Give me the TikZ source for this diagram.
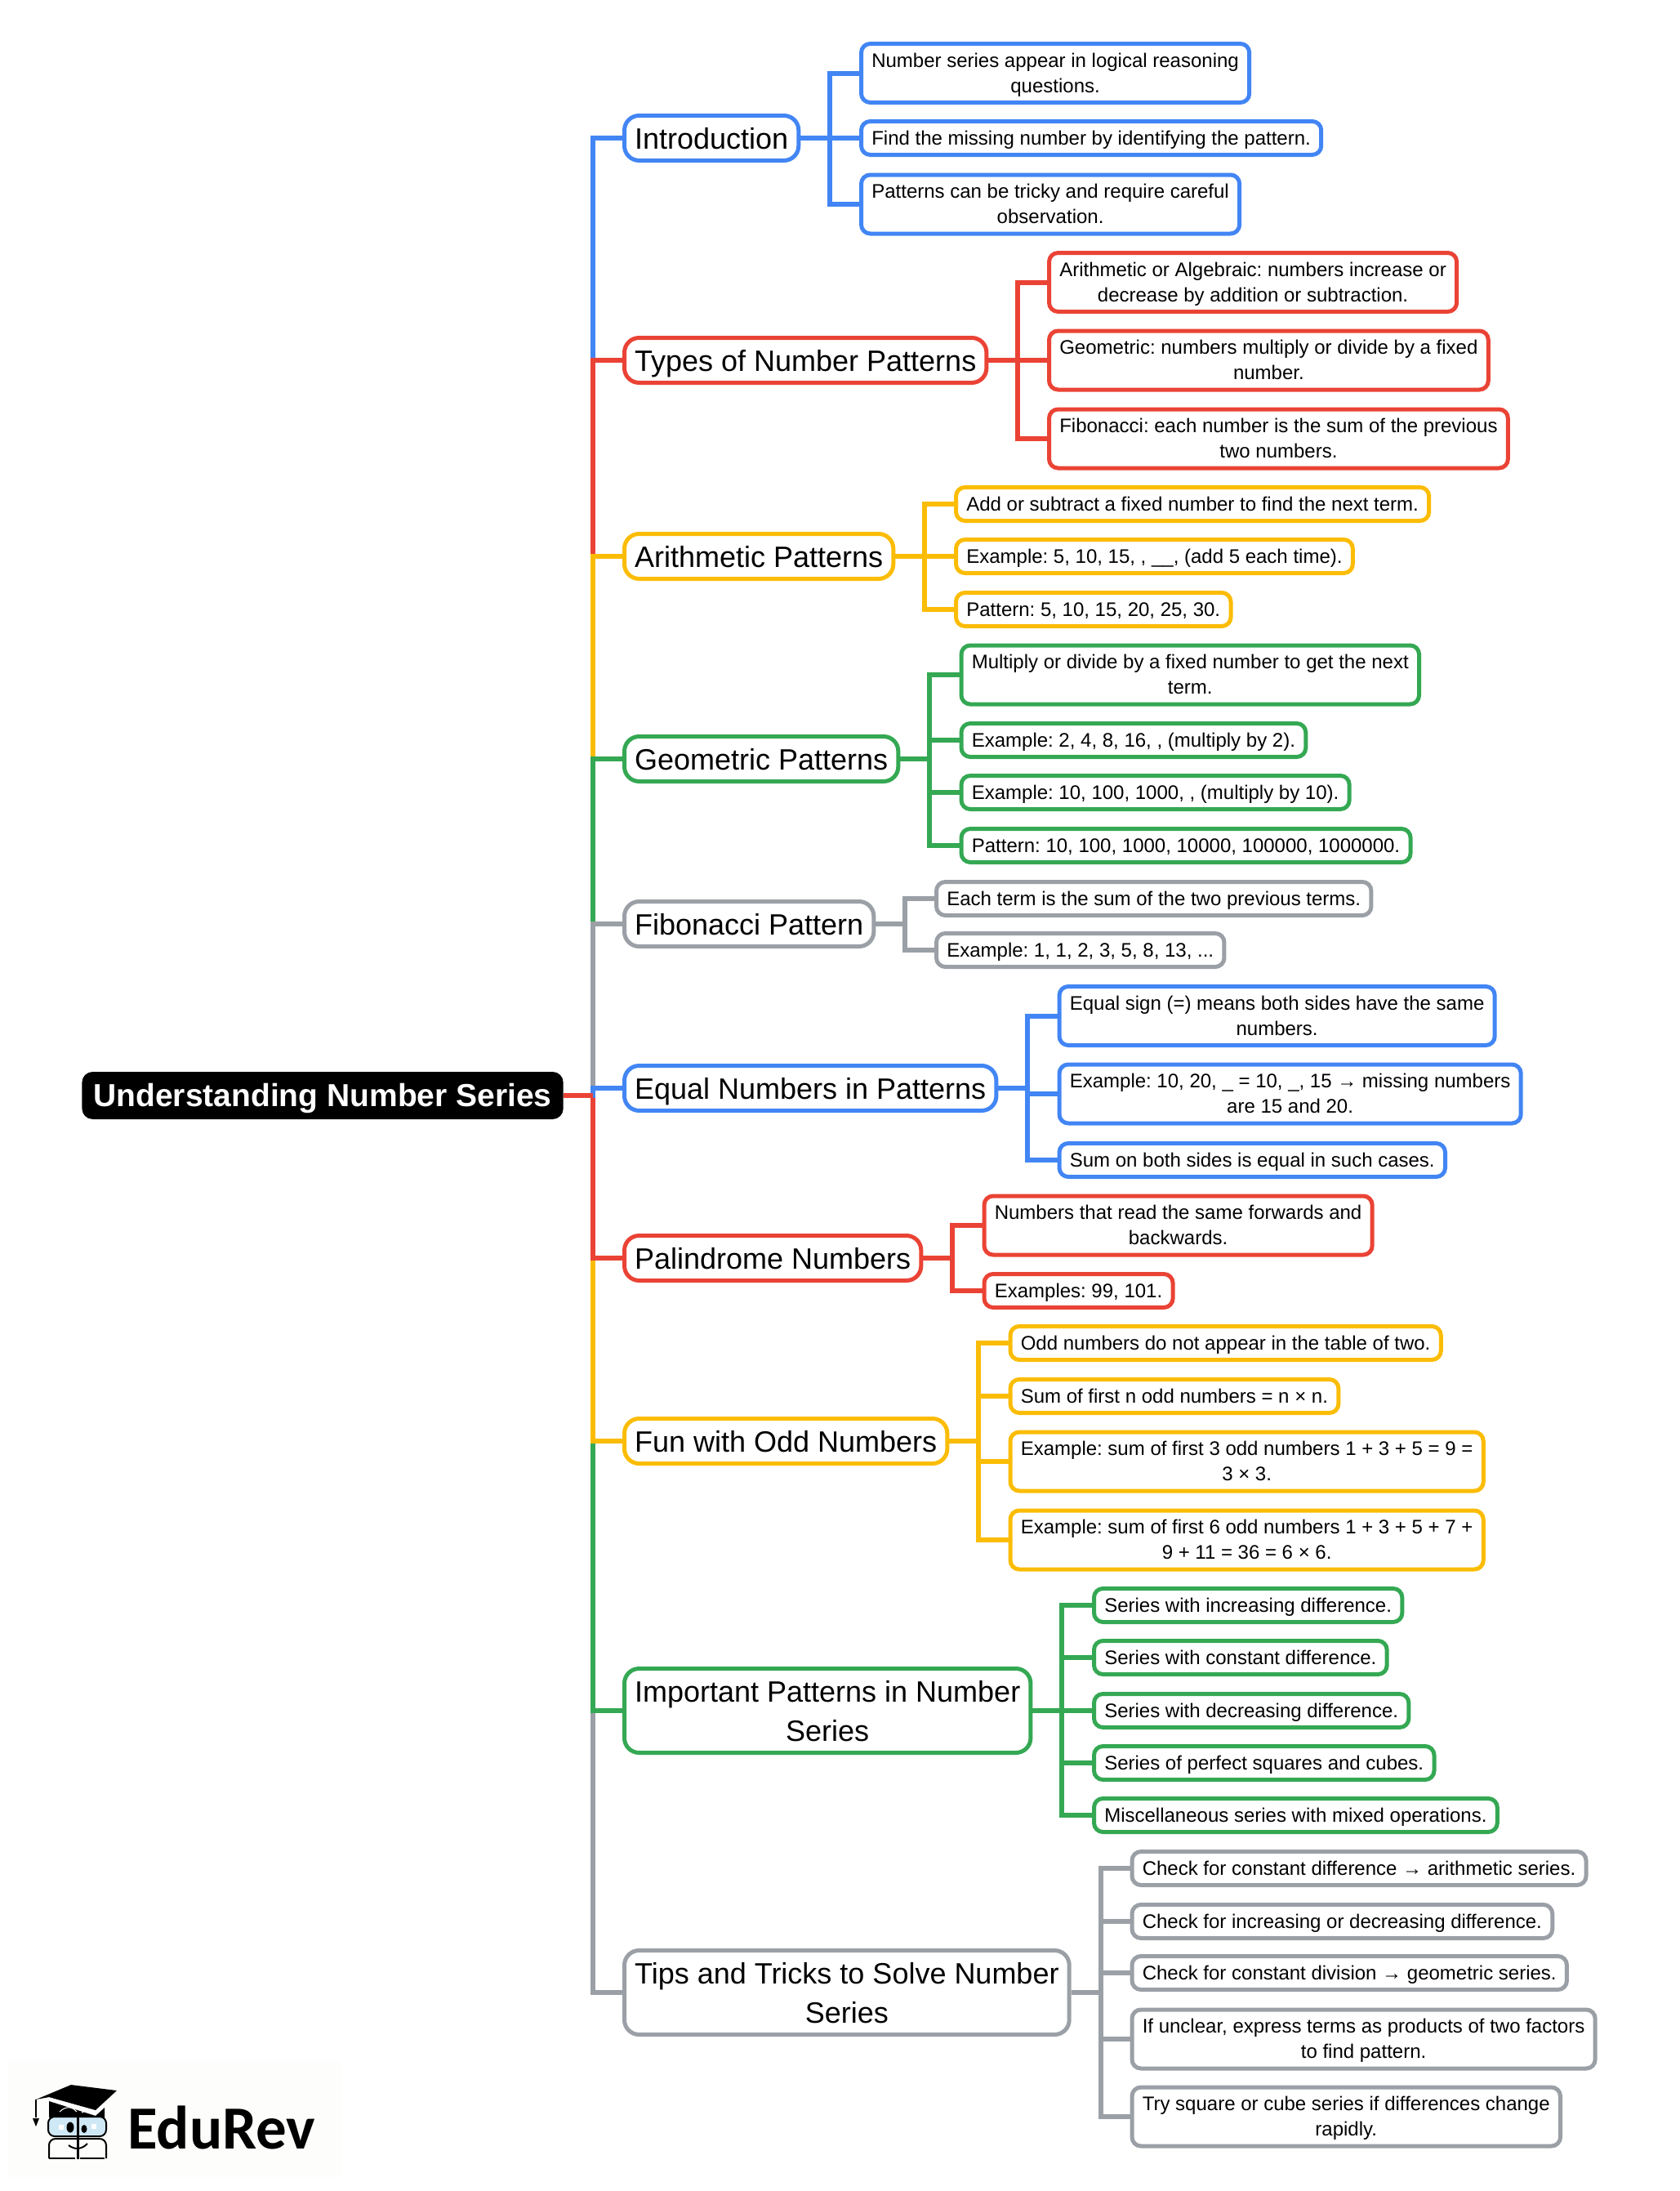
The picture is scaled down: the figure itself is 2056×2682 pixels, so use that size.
\documentclass[tikz,border=0pt]{standalone}
\usepackage{fontspec}
\setmainfont{Liberation Sans}
\newfontfamily\logofont{Carlito}
\usetikzlibrary{positioning, calc}
\definecolor{mapblue}{HTML}{4285F4}
\definecolor{mapred}{HTML}{EA4335}
\definecolor{mapyellow}{HTML}{FBBC05}
\definecolor{mapgreen}{HTML}{34A853}
\definecolor{mapgrey}{HTML}{9AA0A6}
\definecolor{lensblue}{HTML}{CFE8F5}
\definecolor{logopaper}{HTML}{FDFDFC}
\frenchspacing
\newcommand{\rootline}[2]{\draw[link=#1] (root.east) -- (trunk) |- (#2.west);}
\newcommand{\subline}[3]{\draw[link=#1] (#2.east) -- ++(36,0) |- (#3.west);}
\begin{document}
\begin{tikzpicture}[x=.5pt, y=-.5pt,
    rootbox/.style={fill=black, text=white, anchor=west, rounded corners=6.5pt, align=center,
        inner xsep=7pt, inner ysep=2.5pt, font=\fontsize{19.5}{24}\selectfont\bfseries,
        execute at begin node={\rule[-5.3pt]{0pt}{24pt}}},
    branch/.style={draw=#1, line width=2.5pt, anchor=west, rounded corners=9pt, align=center,
        inner xsep=6.3pt, inner ysep=1.75pt, font=\fontsize{18}{24}\selectfont,
        execute at begin node={\rule[-5.25pt]{0pt}{24pt}}},
    branchtwo/.style={branch=#1, execute at begin node={\rule[-5.25pt]{0pt}{48pt}}},
    leaf/.style={draw=#1, line width=2.5pt, anchor=west, rounded corners=5.5pt, align=center,
        inner xsep=6.4pt, inner ysep=2.5pt, font=\fontsize{12}{15.5}\selectfont,
        execute at begin node={\rule[-3.6pt]{0pt}{15.5pt}}},
    leaftwo/.style={leaf=#1, execute at begin node={\rule[-3.6pt]{0pt}{31pt}}},
    link/.style={draw=#1, line width=3pt}]
\useasboundingbox (0,0) rectangle (2056,2682);
\fill[logopaper] (10,2523) rectangle (418,2665);

\node[rootbox] (root) at (100,1341) {Understanding Number Series};
\coordinate (trunk) at (725.5,1341);

\node[branch=mapblue] (intro) at (762,169) {Introduction};
\node[branch=mapred] (types) at (762,441) {Types of Number Patterns};
\node[branch=mapyellow] (arith) at (762,681) {Arithmetic Patterns};
\node[branch=mapgreen] (geo) at (762,929) {Geometric Patterns};
\node[branch=mapgrey] (fib) at (762,1131) {Fibonacci Pattern};
\node[branch=mapblue] (equal) at (762,1332) {Equal Numbers in Patterns};
\node[branch=mapred] (pal) at (762,1540) {Palindrome Numbers};
\node[branch=mapyellow] (odd) at (762,1764) {Fun with Odd Numbers};
\node[branchtwo=mapgreen] (imp) at (762,2094) {Important Patterns in Number\\Series};
\node[branchtwo=mapgrey] (tips) at (762,2439) {Tips and Tricks to Solve Number\\Series};

\node[leaftwo=mapblue] (intro1) at (1052,89.5) {Number series appear in logical reasoning\\questions.};
\node[leaf=mapblue] (intro2) at (1052,169) {Find the missing number by identifying the pattern.};
\node[leaftwo=mapblue] (intro3) at (1052,250) {Patterns can be tricky and require careful\\observation.};

\node[leaftwo=mapred] (types1) at (1282,345.5) {Arithmetic or Algebraic: numbers increase or\\decrease by addition or subtraction.};
\node[leaftwo=mapred] (types2) at (1282,441) {Geometric: numbers multiply or divide by a fixed\\number.};
\node[leaftwo=mapred] (types3) at (1282,537) {Fibonacci: each number is the sum of the previous\\two numbers.};

\node[leaf=mapyellow] (arith1) at (1168,617) {Add or subtract a fixed number to find the next term.};
\node[leaf=mapyellow] (arith2) at (1168,681) {Example: 5, 10, 15, , \_\_, (add 5 each time).};
\node[leaf=mapyellow] (arith3) at (1168,746) {Pattern: 5, 10, 15, 20, 25, 30.};

\node[leaftwo=mapgreen] (geo1) at (1174.5,826) {Multiply or divide by a fixed number to get the next\\term.};
\node[leaf=mapgreen] (geo2) at (1174.5,906) {Example: 2, 4, 8, 16, , (multiply by 2).};
\node[leaf=mapgreen] (geo3) at (1174.5,970) {Example: 10, 100, 1000, , (multiply by 10).};
\node[leaf=mapgreen] (geo4) at (1174.5,1035) {Pattern: 10, 100, 1000, 10000, 100000, 1000000.};

\node[leaf=mapgrey] (fib1) at (1144,1100) {Each term is the sum of the two previous terms.};
\node[leaf=mapgrey] (fib2) at (1144,1163) {Example: 1, 1, 2, 3, 5, 8, 13, ...};

\node[leaftwo=mapblue] (equal1) at (1294.5,1243.5) {Equal sign (=) means both sides have the same\\numbers.};
\node[leaftwo=mapblue] (equal2) at (1294.5,1339) {Example: 10, 20, \_ = 10, \_, 15 → missing numbers\\are 15 and 20.};
\node[leaf=mapblue] (equal3) at (1294.5,1420) {Sum on both sides is equal in such cases.};

\node[leaftwo=mapred] (pal1) at (1202.5,1500) {Numbers that read the same forwards and\\backwards.};
\node[leaf=mapred] (pal2) at (1202.5,1580) {Examples: 99, 101.};

\node[leaf=mapyellow] (odd1) at (1234.5,1644) {Odd numbers do not appear in the table of two.};
\node[leaf=mapyellow] (odd2) at (1234.5,1709) {Sum of first n odd numbers = n × n.};
\node[leaftwo=mapyellow] (odd3) at (1234.5,1789) {Example: sum of first 3 odd numbers 1 + 3 + 5 = 9 =\\3 × 3.};
\node[leaftwo=mapyellow] (odd4) at (1234.5,1885) {Example: sum of first 6 odd numbers 1 + 3 + 5 + 7 +\\9 + 11 = 36 = 6 × 6.};

\node[leaf=mapgreen] (imp1) at (1337,1965) {Series with increasing difference.};
\node[leaf=mapgreen] (imp2) at (1337,2029) {Series with constant difference.};
\node[leaf=mapgreen] (imp3) at (1337,2094) {Series with decreasing difference.};
\node[leaf=mapgreen] (imp4) at (1337,2158) {Series of perfect squares and cubes.};
\node[leaf=mapgreen] (imp5) at (1337,2222) {Miscellaneous series with mixed operations.};

\node[leaf=mapgrey] (tips1) at (1383.5,2287) {Check for constant difference → arithmetic series.};
\node[leaf=mapgrey] (tips2) at (1383.5,2352) {Check for increasing or decreasing difference.};
\node[leaf=mapgrey] (tips3) at (1383.5,2415) {Check for constant division → geometric series.};
\node[leaftwo=mapgrey] (tips4) at (1383.5,2496) {If unclear, express terms as products of two factors\\to find pattern.};
\node[leaftwo=mapgrey] (tips5) at (1383.5,2591) {Try square or cube series if differences change\\rapidly.};

\rootline{mapgrey}{tips}
\rootline{mapgreen}{imp}
\rootline{mapyellow}{odd}
\rootline{mapred}{pal}
\rootline{mapblue}{intro}
\rootline{mapred}{types}
\rootline{mapyellow}{arith}
\rootline{mapgreen}{geo}
\rootline{mapgrey}{fib}
\rootline{mapblue}{equal}
\draw[link=mapred] (root.east) -- (trunk);

\subline{mapblue}{intro}{intro1}
\subline{mapblue}{intro}{intro2}
\subline{mapblue}{intro}{intro3}
\subline{mapred}{types}{types1}
\subline{mapred}{types}{types2}
\subline{mapred}{types}{types3}
\subline{mapyellow}{arith}{arith1}
\subline{mapyellow}{arith}{arith2}
\subline{mapyellow}{arith}{arith3}
\subline{mapgreen}{geo}{geo1}
\subline{mapgreen}{geo}{geo2}
\subline{mapgreen}{geo}{geo3}
\subline{mapgreen}{geo}{geo4}
\subline{mapgrey}{fib}{fib1}
\subline{mapgrey}{fib}{fib2}
\subline{mapblue}{equal}{equal1}
\subline{mapblue}{equal}{equal2}
\subline{mapblue}{equal}{equal3}
\subline{mapred}{pal}{pal1}
\subline{mapred}{pal}{pal2}
\subline{mapyellow}{odd}{odd1}
\subline{mapyellow}{odd}{odd2}
\subline{mapyellow}{odd}{odd3}
\subline{mapyellow}{odd}{odd4}
\subline{mapgreen}{imp}{imp1}
\subline{mapgreen}{imp}{imp2}
\subline{mapgreen}{imp}{imp3}
\subline{mapgreen}{imp}{imp4}
\subline{mapgreen}{imp}{imp5}
\subline{mapgrey}{tips}{tips1}
\subline{mapgrey}{tips}{tips2}
\subline{mapgrey}{tips}{tips3}
\subline{mapgrey}{tips}{tips4}
\subline{mapgrey}{tips}{tips5}

\fill (44,2570) -- (87,2552) -- (143,2559) -- (117,2583) -- (60,2567) -- cycle;
\fill (60,2572) -- (117,2590) -- (128,2580) -- (128,2592) -- (60,2592) -- cycle;
\draw[white, line width=.5pt] (73,2585) .. controls (80,2578) and (88,2578) .. (94,2585);
\draw[white, line width=.5pt] (100,2586) .. controls (104,2583) and (108,2583) .. (112,2586);
\draw[line width=1pt] (44,2570) -- (44,2592);
\fill (40,2593) -- (48,2593) -- (44,2603) -- cycle;
\draw[line width=1pt, fill=lensblue, rounded corners=4pt] (59,2591) rectangle (130,2615);
\draw[line width=1pt, rounded corners=4pt] (60,2642) -- (60,2618) -- (130,2618) -- (130,2642);
\draw[line width=1pt] (60,2642) -- (92,2642);
\draw[line width=1pt] (98,2642) -- (128,2642);
\draw[line width=1.5pt] (95,2589) -- (95,2643);
\fill (86,2604) ellipse (4.5 and 6.5);
\fill (103,2606) ellipse (3.5 and 5);
\fill[white] (72,2601) rectangle (78,2607);
\fill[white] (112,2600) rectangle (118,2606);
\draw[line width=1pt] (84,2626) .. controls (92,2632) and (100,2631) .. (107,2624);
\node[font=\fontsize{37.5}{40}\selectfont\logofont\bfseries, anchor=west, inner sep=0pt] (logotext) at (156,2604) {EduRev};
\end{tikzpicture}
\end{document}
